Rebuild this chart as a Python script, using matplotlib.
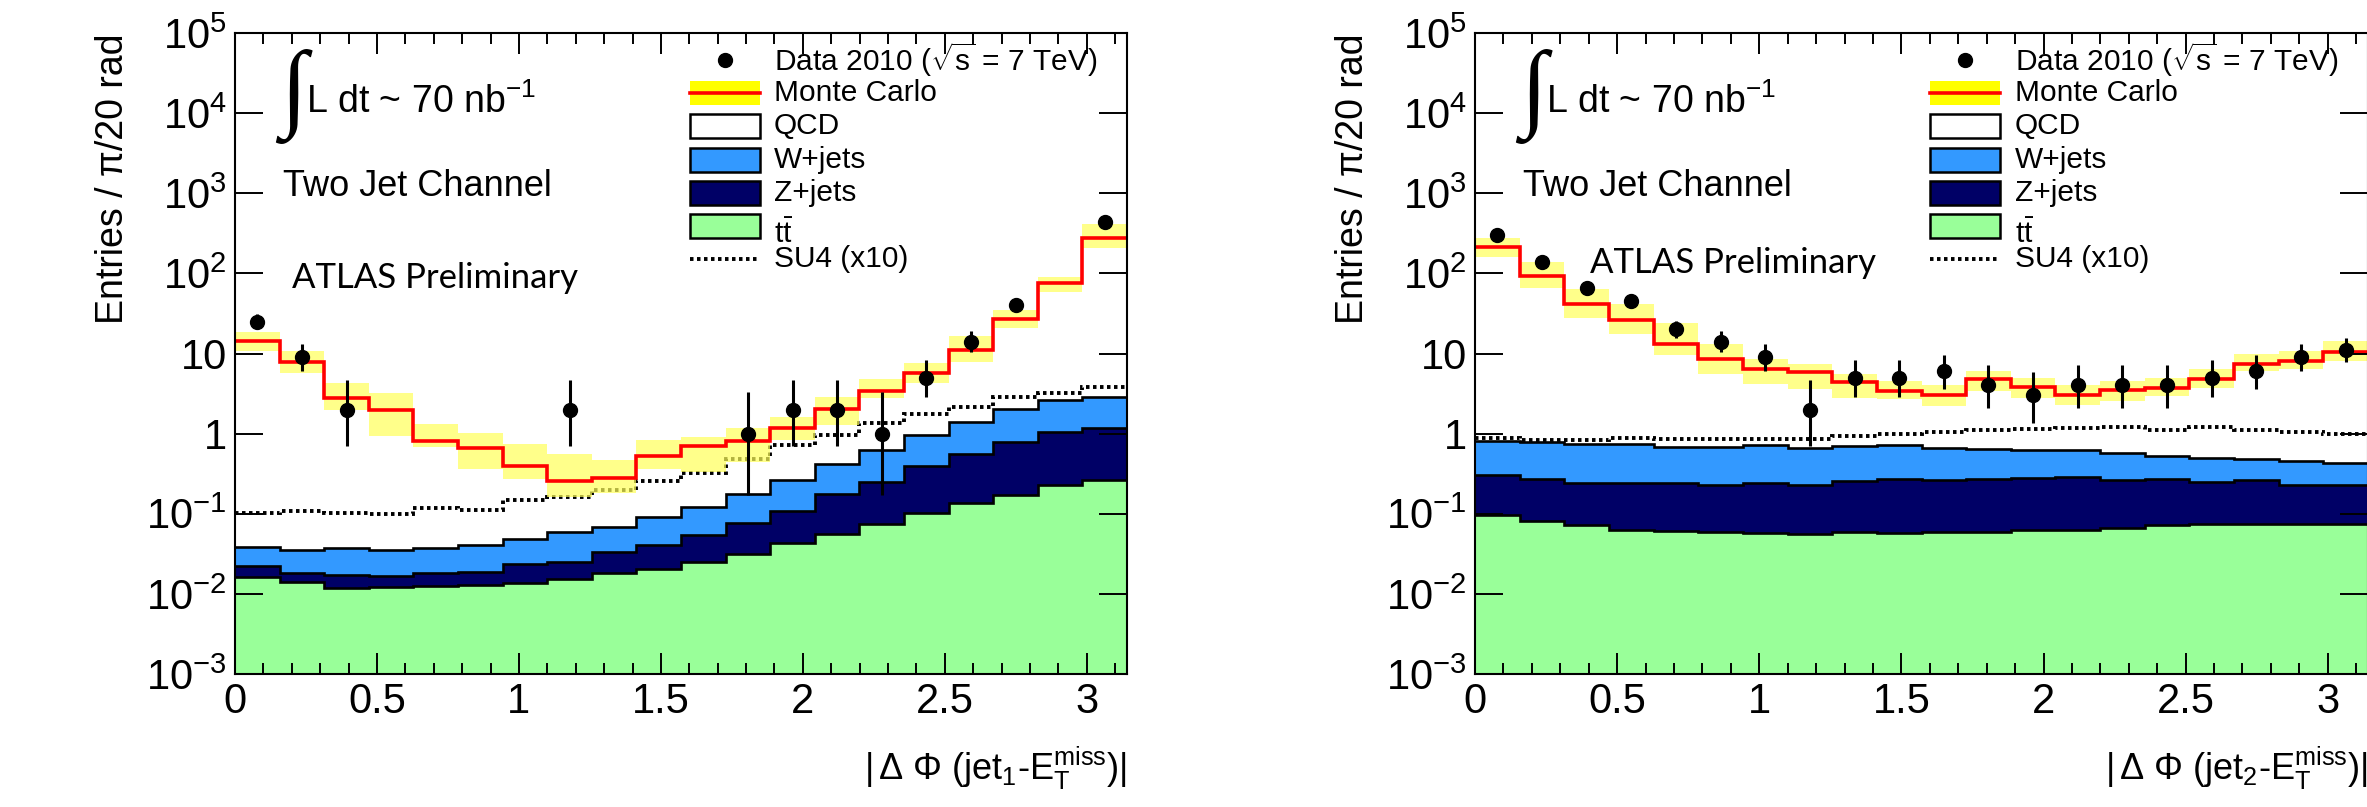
import numpy as np
import matplotlib
matplotlib.use('Agg')
import matplotlib.pyplot as plt
from matplotlib.patches import Rectangle
from matplotlib.lines import Line2D
from matplotlib.ticker import LogLocator, MultipleLocator, NullFormatter

plt.rcParams['font.family'] = ['Liberation Sans', 'DejaVu Sans']
plt.rcParams['mathtext.fontset'] = 'custom'
plt.rcParams['mathtext.rm'] = 'Liberation Sans'
plt.rcParams['mathtext.it'] = 'Liberation Sans:italic'
plt.rcParams['mathtext.bf'] = 'Liberation Sans:bold'

# 20 bins of pi/20 rad
n_bins = 20

# ---- left panel: |dphi(jet1 - MET)| ----
data_j1 = [25, 9, 2, 0, 0, 0, 0, 2, 0, 0, 0, 1, 2, 2, 1, 5, 14, 40, 0, 440]
elo_j1 = [4.96, 2.94, 1.29, 0, 0, 0, 0, 1.29, 0, 0, 0, 0.83, 1.29, 1.29, 0.83, 2.16, 3.70, 6.3, 0, 21.0]
ehi_j1 = [6.06, 4.06, 2.64, 0, 0, 0, 0, 2.64, 0, 0, 0, 2.30, 2.64, 2.64, 2.30, 3.38, 4.83, 7.4, 0, 22.0]
ttbar_j1 = [0.0161, 0.0142, 0.0117, 0.0121, 0.0125, 0.0130, 0.0138, 0.0153, 0.0184, 0.0206,
            0.0252, 0.0315, 0.0428, 0.0559, 0.0745, 0.101, 0.135, 0.173, 0.229, 0.264]
zjets_j1 = [0.0062, 0.0038, 0.0055, 0.0046, 0.0059, 0.0056, 0.0098, 0.0099, 0.0153, 0.0205,
            0.0291, 0.0444, 0.065, 0.120, 0.172, 0.293, 0.416, 0.617, 0.81, 0.926]
wjets_j1 = [0.0165, 0.0173, 0.0205, 0.0186, 0.0193, 0.0221, 0.0248, 0.0334, 0.0339, 0.049,
            0.0677, 0.100, 0.156, 0.238, 0.378, 0.556, 0.859, 1.22, 1.59, 1.70]
qcd_j1 = [14.46, 7.76, 2.76, 1.91, 0.77, 0.614, 0.346, 0.200, 0.214, 0.436,
          0.586, 0.641, 0.926, 1.60, 2.75, 4.71, 9.69, 25.0, 74.1, 271]
su4_j1 = [0.103, 0.109, 0.103, 0.098, 0.119, 0.111, 0.148, 0.163, 0.20, 0.259,
          0.326, 0.478, 0.72, 0.96, 1.37, 1.74, 2.17, 2.84, 3.24, 3.78]
band_hi_j1 = [18.7, 10.9, 4.25, 3.18, 1.31, 1.03, 0.74, 0.557, 0.469, 0.83,
              0.90, 1.16, 1.60, 2.84, 4.76, 7.55, 16.3, 34.9, 91, 414]
band_lo_j1 = [10.9, 5.66, 1.97, 0.94, 0.69, 0.358, 0.272, 0.160, 0.183, 0.358,
              0.335, 0.447, 0.83, 1.28, 2.76, 4.25, 7.92, 20.6, 59, 206]

# ---- right panel: |dphi(jet2 - MET)| ----
data_j2 = [300, 140, 65, 45, 20, 14, 9, 2, 5, 5, 6, 4, 3, 4, 4, 4, 5, 6, 9, 11]
elo_j2 = [17.3, 11.8, 8.0, 6.7, 4.43, 3.7, 2.94, 1.29, 2.16, 2.16, 2.38, 1.91, 1.63, 1.91, 1.91, 1.91, 2.16, 2.38, 2.94, 3.27]
ehi_j2 = [18.3, 12.8, 9.1, 7.7, 5.55, 4.83, 4.06, 2.64, 3.38, 3.38, 3.58, 3.16, 2.92, 3.16, 3.16, 3.16, 3.38, 3.58, 4.06, 4.42]
ttbar_j2 = [0.0953, 0.0809, 0.0714, 0.0631, 0.0608, 0.0596, 0.0579, 0.0562, 0.0596, 0.0579,
            0.0596, 0.0596, 0.0619, 0.0631, 0.0668, 0.0721, 0.0736, 0.0736, 0.0736, 0.0736]
zjets_j2 = [0.206, 0.188, 0.168, 0.176, 0.178, 0.170, 0.181, 0.174, 0.196, 0.216,
            0.203, 0.211, 0.217, 0.224, 0.199, 0.202, 0.175, 0.189, 0.158, 0.154]
wjets_j2 = [0.509, 0.518, 0.510, 0.501, 0.448, 0.457, 0.475, 0.437, 0.437, 0.447,
            0.392, 0.372, 0.345, 0.331, 0.307, 0.256, 0.242, 0.219, 0.223, 0.202]
qcd_j2 = [213.2, 91.2, 40.5, 25.8, 12.6, 7.78, 5.64, 5.22, 3.73, 2.68,
          2.39, 4.13, 3.20, 2.42, 2.90, 3.22, 4.28, 6.99, 7.62, 9.87]
su4_j2 = [0.873, 0.824, 0.84, 0.89, 0.85, 0.85, 0.85, 0.85, 0.933, 0.98,
          1.06, 1.10, 1.13, 1.19, 1.21, 1.10, 1.21, 1.10, 1.06, 1.0]
band_hi_j2 = [275, 140, 63, 41, 24.3, 13.0, 8.5, 7.3, 5.5, 4.5,
              4.1, 6.0, 5.0, 4.1, 4.5, 5.0, 6.35, 9.8, 10.8, 14.4]
band_lo_j2 = [161, 65, 28, 17.4, 9.6, 5.6, 4.2, 3.6, 2.8, 2.7,
              2.2, 3.4, 2.8, 2.3, 2.55, 2.95, 3.75, 6.05, 6.35, 8.1]

ytick_vals = [1e-3, 1e-2, 1e-1, 1, 10, 1e2, 1e3, 1e4, 1e5]
ytick_labels = ['$10^{-3}$', '$10^{-2}$', '$10^{-1}$', '1', '10', '$10^{2}$', '$10^{3}$', '$10^{4}$', '$10^{5}$']
xtick_vals = [0, 0.5, 1, 1.5, 2, 2.5, 3]
xtick_labels = ['0', '0.5', '1', '1.5', '2', '2.5', '3']
legend_labels = [r'Data 2010 ($\sqrt{\mathrm{s}}$ = 7 TeV)', 'Monte Carlo', 'QCD', 'W+jets', 'Z+jets',
                 r'$\mathrm{t}\bar{\mathrm{t}}$', 'SU4 (x10)']

c_tt = '#99ff99'
c_z = '#000066'
c_w = '#3399ff'
c_band = '#ffff59'
dots = (0, (0.9, 0.9))

edges = np.linspace(0, np.pi, n_bins + 1)
centers = 0.5 * (edges[:-1] + edges[1:])


def draw_legend(ax):
    x0, x1 = 0.5096, 0.5881
    xt = 0.6043
    y0 = 0.9579
    dy = 0.0518
    h = 0.0374
    tr = ax.transAxes
    kw = dict(transform=tr, clip_on=False)
    for i, lab in enumerate(legend_labels):
        y = y0 - i * dy
        if i == 0:
            ax.add_line(Line2D([(x0 + x1) / 2], [y], marker='o', ms=10, color='black', ls='none', **kw))
        elif i == 1:
            ax.add_patch(Rectangle((x0, y - h / 2), x1 - x0, h, facecolor='#ffff00', edgecolor='none', **kw))
            ax.add_line(Line2D([x0, x1], [y, y], color='red', lw=2.6, **kw))
        elif i == 6:
            ax.add_line(Line2D([x0, x1], [y, y], color='black', lw=2.8, ls=dots, **kw))
        else:
            fc = ['white', c_w, c_z, c_tt][i - 2]
            ax.add_patch(Rectangle((x0, y - h / 2), x1 - x0, h, facecolor=fc, edgecolor='black', lw=1.8, **kw))
        ty = y - 0.012 if i == 5 else y
        ax.text(xt, ty, lab, transform=tr, ha='left', va='center', fontsize=21.5)


def draw_panel(ax, data, elo, ehi, tt, zj, wj, qcd, su4, blo, bhi, xlabel, atlas_xy):
    tt = np.array(tt)
    z_top = tt + np.array(zj)
    w_top = z_top + np.array(wj)
    mc = w_top + np.array(qcd)

    ax.stairs(tt, edges, baseline=1e-4, fill=True, color=c_tt, lw=0)
    ax.stairs(z_top, edges, baseline=tt, fill=True, color=c_z, lw=0)
    ax.stairs(w_top, edges, baseline=z_top, fill=True, color=c_w, lw=0)
    ax.stairs(mc, edges, baseline=w_top, fill=True, color='white', lw=0)
    for top in (tt, z_top, w_top):
        ax.stairs(top, edges, baseline=None, color='black', lw=1.9)
    ax.stairs(su4, edges, baseline=None, color='black', lw=2.8, ls=dots)
    ax.stairs(bhi, edges, baseline=np.array(blo), fill=True, color=c_band, alpha=0.7, lw=0)
    ax.stairs(mc, edges, baseline=None, color='red', lw=2.6)

    d = np.array(data, dtype=float)
    m = d > 0
    ax.errorbar(centers[m], d[m], yerr=[np.array(elo)[m], np.array(ehi)[m]], fmt='o',
                color='black', ms=10, elinewidth=2.2, capsize=0, zorder=5)

    ax.set_yscale('log')
    ax.set_xlim(0, np.pi)
    ax.set_ylim(1e-3, 1e5)
    ax.set_xticks(xtick_vals)
    ax.set_xticklabels(xtick_labels)
    ax.xaxis.set_minor_locator(MultipleLocator(0.1))
    ax.set_yticks(ytick_vals)
    ax.set_yticklabels(ytick_labels)
    ax.yaxis.set_minor_locator(LogLocator(base=10, subs=np.arange(2, 10)))
    ax.yaxis.set_minor_formatter(NullFormatter())
    ax.tick_params(which='both', direction='in', top=True, right=True, width=1.4, labelsize=30, pad=6)
    ax.tick_params(axis='x', which='major', length=15)
    ax.tick_params(axis='x', which='minor', length=7.6)
    ax.tick_params(axis='y', which='major', length=20)
    ax.tick_params(axis='y', which='minor', length=9.7)
    for s in ax.spines.values():
        s.set_linewidth(1.5)

    ax.text(-0.137, 1.0, 'Entries / \u03c0/20 rad', rotation=90, ha='center', va='top',
            transform=ax.transAxes, fontsize=27)
    ax.text(1.0, -0.148, xlabel, ha='right', va='center', transform=ax.transAxes, fontsize=26)

    ax.text(0.0504, 0.9017, '\u222b', ha='left', va='center', transform=ax.transAxes, fontsize=70,
            family=['Liberation Serif', 'DejaVu Serif'])
    ax.text(0.0796, 0.875, r'L dt ~ 70 nb$^{\mathrm{-1}}$', ha='left', va='baseline',
            transform=ax.transAxes, fontsize=27)
    ax.text(0.0538, 0.745, 'Two Jet Channel', ha='left', va='baseline', transform=ax.transAxes, fontsize=26)
    ax.text(atlas_xy[0], atlas_xy[1], 'ATLAS Preliminary', ha='left', va='baseline',
            transform=ax.transAxes, fontsize=25, family=['Lato', 'DejaVu Sans'])
    draw_legend(ax)


fig = plt.figure(figsize=(23.67, 8.07), dpi=100)
ax1 = fig.add_axes([235 / 2367, 1 - 674 / 807, 892 / 2367, 641 / 807])
ax2 = fig.add_axes([1475 / 2367, 1 - 674 / 807, 893 / 2367, 641 / 807])

draw_panel(ax1, data_j1, elo_j1, ehi_j1, ttbar_j1, zjets_j1, wjets_j1, qcd_j1, su4_j1,
           band_lo_j1, band_hi_j1,
           r'$|\,\Delta\ \Phi\ (\mathrm{jet}_{1}$-$\mathrm{E}_{\mathrm{T}}^{\mathrm{miss}})|$', (0.0639, 0.602))
draw_panel(ax2, data_j2, elo_j2, ehi_j2, ttbar_j2, zjets_j2, wjets_j2, qcd_j2, su4_j2,
           band_lo_j2, band_hi_j2,
           r'$|\,\Delta\ \Phi\ (\mathrm{jet}_{2}$-$\mathrm{E}_{\mathrm{T}}^{\mathrm{miss}})|$', (0.1289, 0.6256))

fig.savefig('out.png', dpi=100)
